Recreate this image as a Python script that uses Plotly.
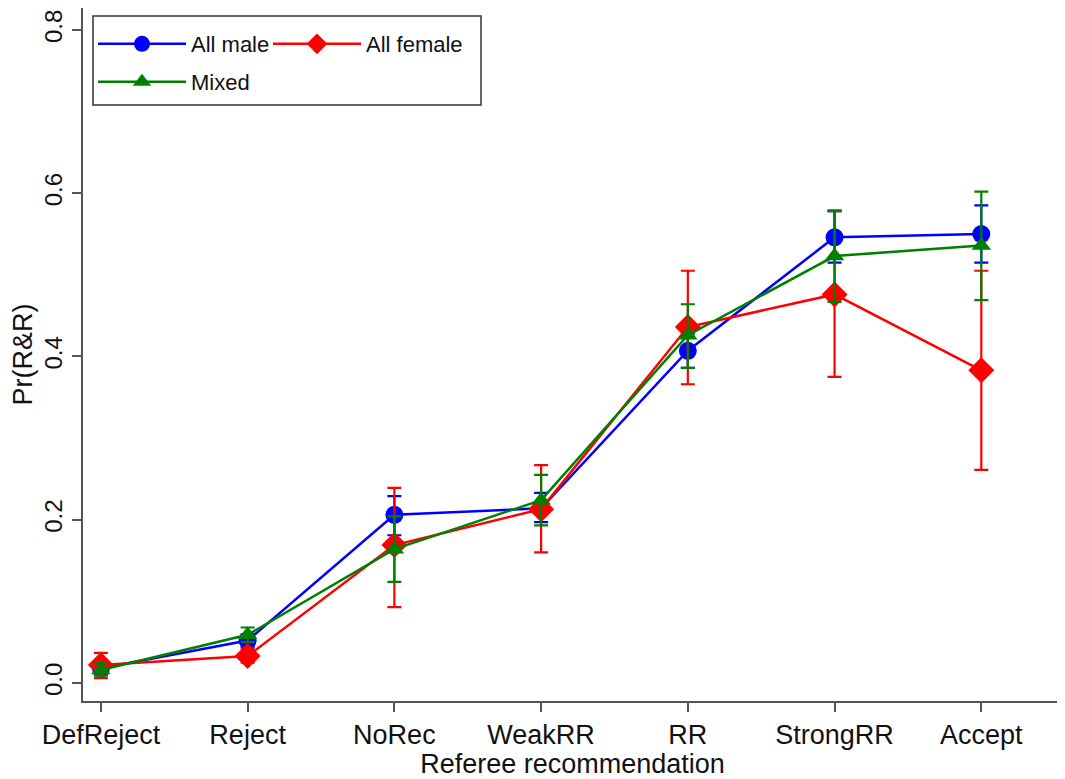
import plotly.graph_objects as go

categories = ["DefReject", "Reject", "NoRec", "WeakRR", "RR", "StrongRR", "Accept"]
x_pos = [1, 2, 3, 4, 5, 6, 7]

male = [0.018, 0.052, 0.206, 0.214, 0.407, 0.546, 0.550]
male_hi = [0.026, 0.060, 0.229, 0.233, 0.428, 0.578, 0.585]
male_lo = [0.010, 0.044, 0.181, 0.197, 0.386, 0.515, 0.515]

female = [0.022, 0.033, 0.169, 0.213, 0.436, 0.476, 0.383]
female_hi = [0.037, 0.042, 0.239, 0.267, 0.505, 0.578, 0.505]
female_lo = [0.006, 0.025, 0.093, 0.160, 0.366, 0.375, 0.261]

mixed = [0.016, 0.059, 0.164, 0.224, 0.426, 0.523, 0.536]
mixed_hi = [0.024, 0.068, 0.204, 0.255, 0.464, 0.579, 0.602]
mixed_lo = [0.009, 0.050, 0.124, 0.193, 0.386, 0.467, 0.469]

FONT = "Liberation Sans, Arial, sans-serif"

def trace(name, y, hi, lo, color, symbol, size, legend):
    return go.Scatter(
        x=x_pos, y=y, name=name, mode="lines+markers",
        line=dict(color=color, width=2.5),
        marker=dict(color=color, symbol=symbol, size=size),
        error_y=dict(type="data", symmetric=False,
                     array=[h - v for h, v in zip(hi, y)],
                     arrayminus=[v - l for v, l in zip(y, lo)],
                     color=color, thickness=2.2, width=7),
        legend=legend,
    )

fig = go.Figure()
fig.add_trace(trace("All male", male, male_hi, male_lo, "#0000FF", "circle", 18, "legend"))
fig.add_trace(trace("All female", female, female_hi, female_lo, "#FF0000", "diamond", 20, "legend3"))
fig.add_trace(trace("Mixed", mixed, mixed_hi, mixed_lo, "#008000", "triangle-up", 17, "legend2"))

OFF = 8  # page body margin
FW, FH = 1065 - OFF, 779 - OFF
PL, PR, PT, PB = 83 - OFF, 1062 - OFF, 0, 701 - OFF
W = PR - PL
H = PB - PT

def px(xr):
    return (xr - OFF - PL) / W

def py(yr):
    return (PB - (yr - OFF)) / H

LEG = dict(orientation="h", xanchor="left", yanchor="top",
           font=dict(size=22, color="#111"), bgcolor="rgba(0,0,0,0)", itemwidth=88)

fig.update_layout(
    width=FW, height=FH,
    margin=dict(l=PL, r=FW - PR, t=PT, b=FH - PB),
    paper_bgcolor="white", plot_bgcolor="white",
    font=dict(family=FONT, size=27, color="#111"),
    showlegend=True,
    legend=dict(LEG, x=px(93), y=py(23)),
    legend3=dict(LEG, x=px(268), y=py(23)),
    legend2=dict(LEG, x=px(93), y=py(61)),
    shapes=[dict(type="rect", xref="paper", yref="paper",
                 x0=px(93), x1=px(481), y0=py(105), y1=py(16),
                 line=dict(color="#333", width=1.5), fillcolor="rgba(0,0,0,0)")],
)

fig.update_xaxes(
    range=[0.878, 7.55], tickmode="array", tickvals=x_pos, ticktext=categories,
    showline=True, linecolor="#555", linewidth=2, ticks="outside", ticklen=9,
    tickwidth=2, tickcolor="#555", showgrid=False, zeroline=False, automargin=False,
    title=dict(text="Referee recommendation", font=dict(size=27), standoff=0),
    tickfont=dict(size=27),
)
fig.update_yaxes(
    range=[-0.02205, 0.8269], tickmode="array", tickvals=[0, 0.2, 0.4, 0.6, 0.8],
    ticktext=["0.0", "0.2", "0.4", "0.6", "0.8"], tickangle=-90,
    showline=True, linecolor="#555", linewidth=2, ticks="outside", ticklen=9,
    tickwidth=2, tickcolor="#555", showgrid=False, zeroline=False, automargin=False,
    ticklabeloverflow="allow",
    title=dict(text="Pr(R&R)", font=dict(size=27), standoff=27),
    tickfont=dict(size=24),
)

fig.write_html("out.html")
